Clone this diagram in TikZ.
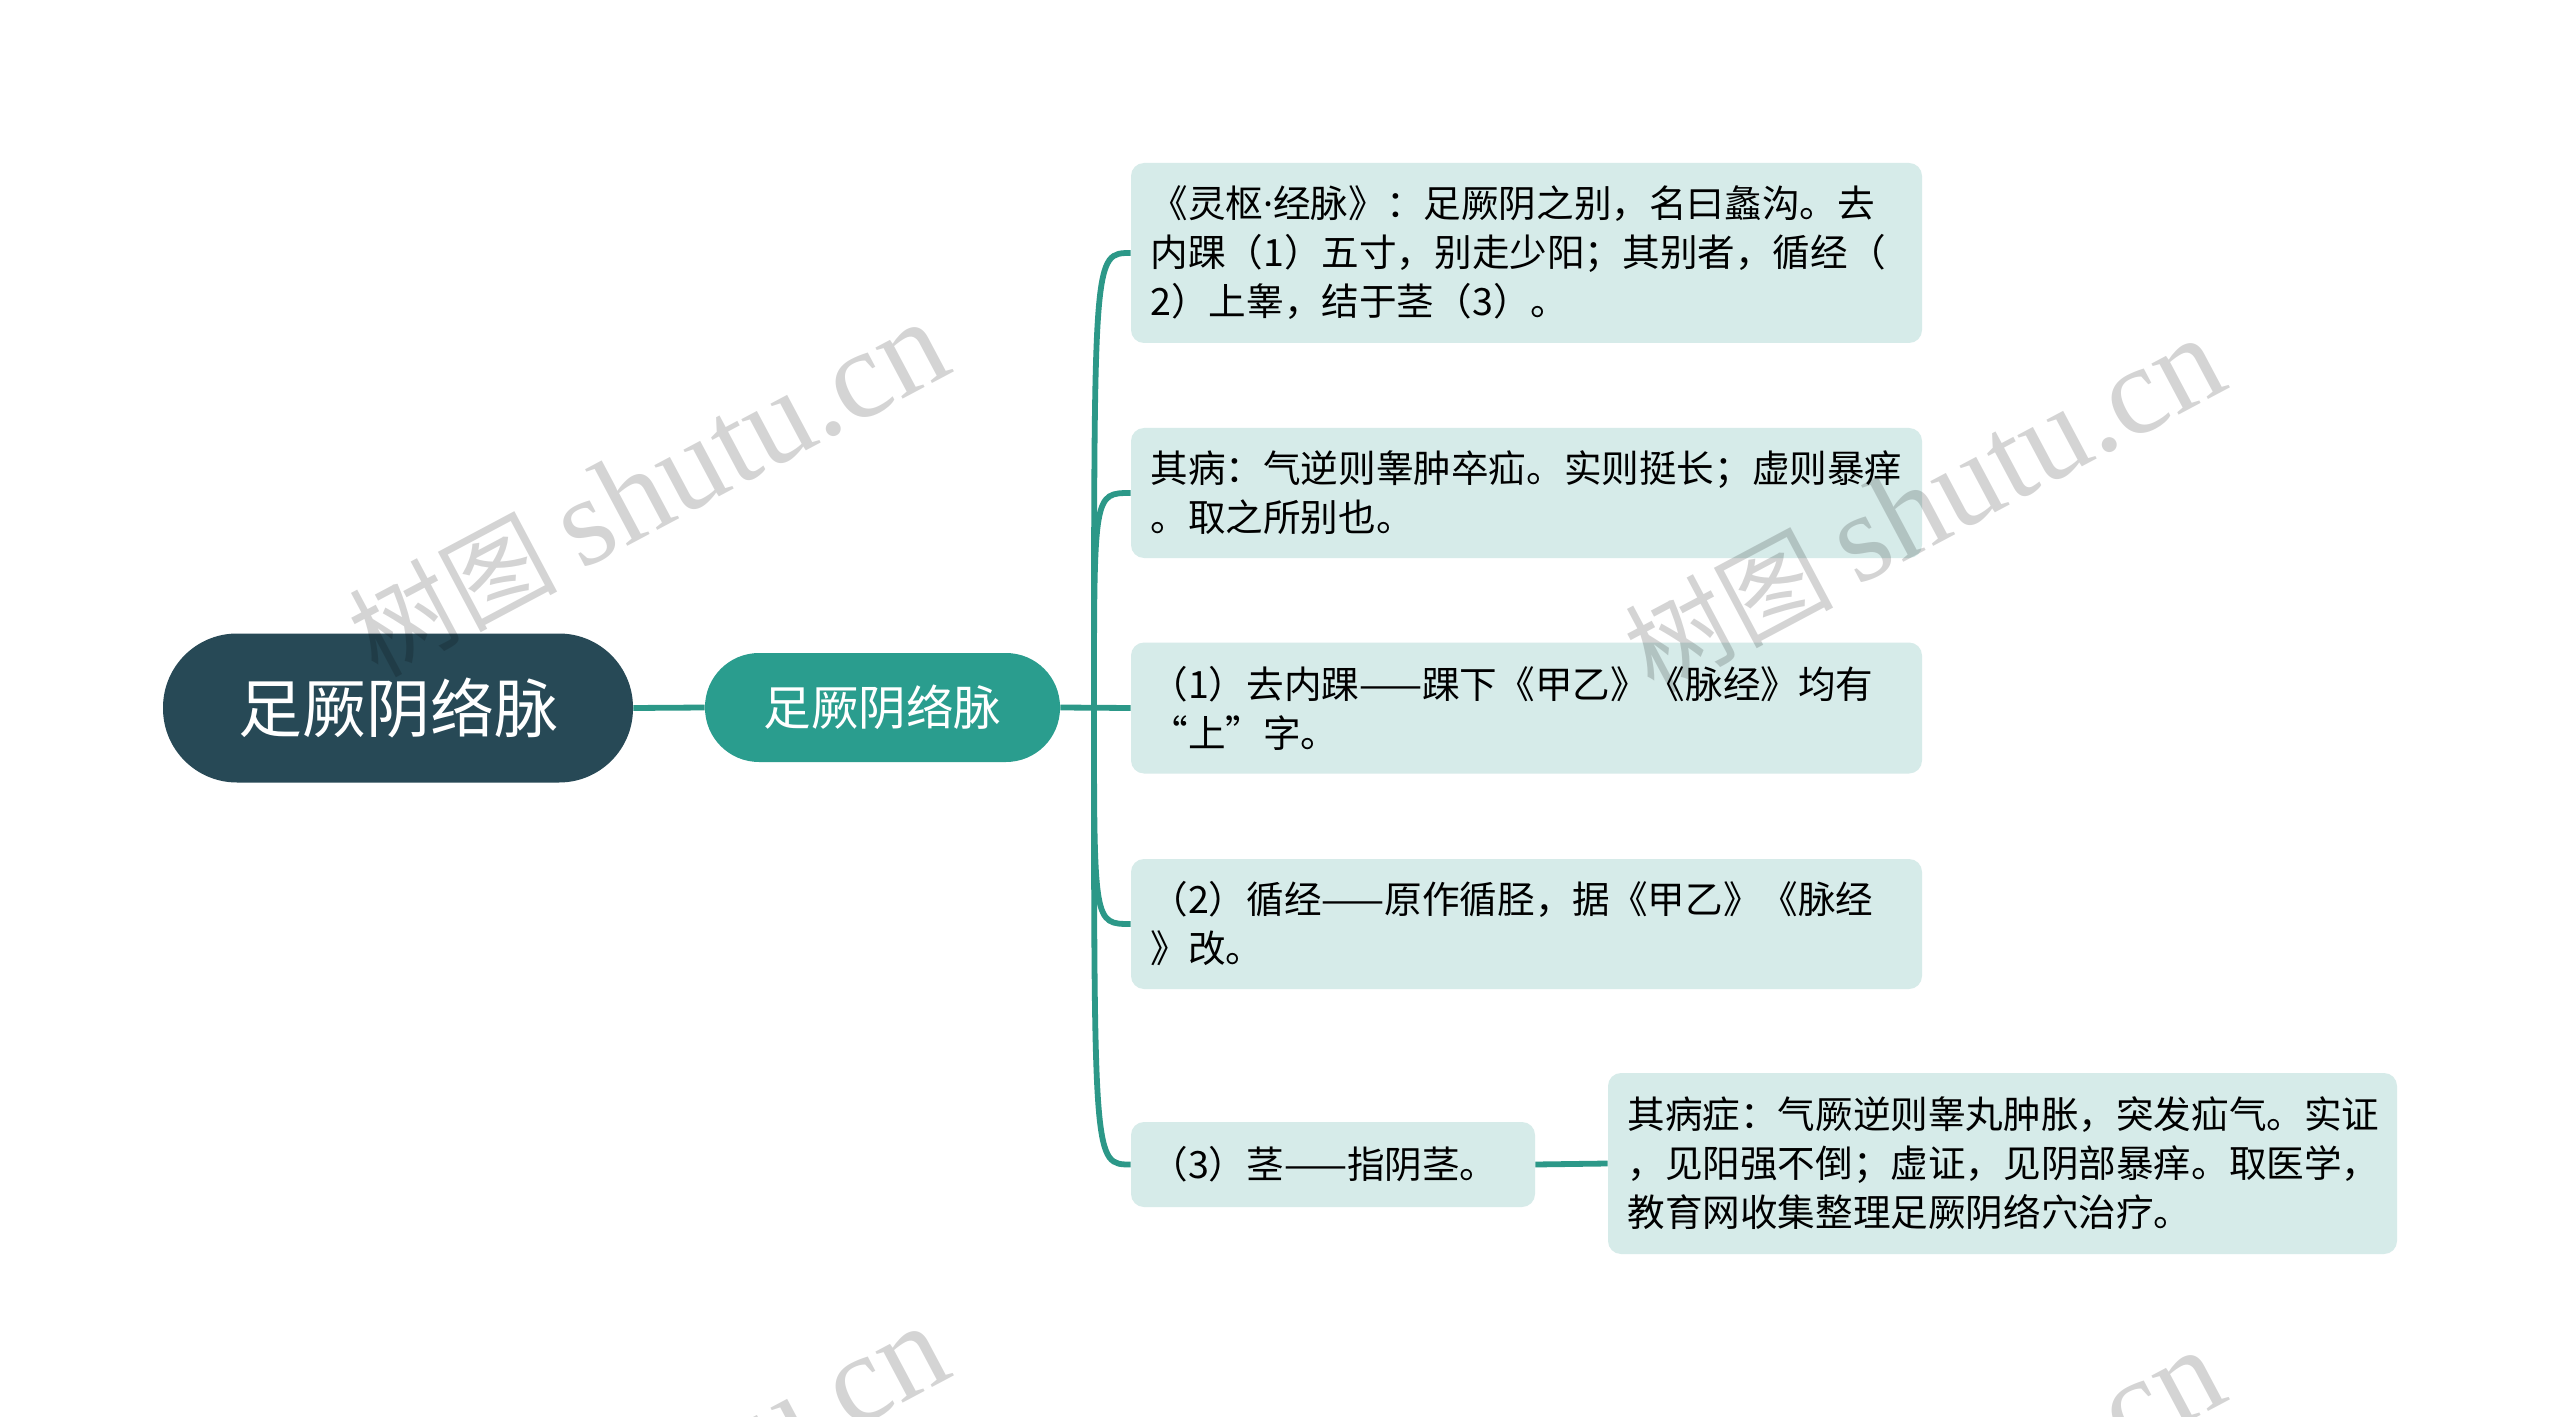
\documentclass[tikz,border=0pt]{standalone}
\usepackage{fontspec}
\setmainfont{Noto Sans CJK SC}
\newfontfamily\wmserif{Liberation Serif}
\newfontfamily\latinf{Noto Sans}
\definecolor{rootc}{RGB}{39,73,86}
\definecolor{tealc}{RGB}{42,157,142}
\definecolor{boxc}{RGB}{214,235,233}
\definecolor{linec}{RGB}{44,152,136}
\begin{document}
\begin{tikzpicture}[x=0.5pt,y=-0.5pt,
 rootbox/.style={fill=rootc, rounded corners=37pt, minimum width=235pt, minimum height=74.5pt, text=white, font=\fontsize{32pt}{36pt}\selectfont, inner sep=0pt},
 subbox/.style={fill=tealc, rounded corners=27pt, minimum width=177.5pt, minimum height=54.5pt, text=white, font=\fontsize{23.8pt}{28pt}\selectfont, inner sep=0pt},
 leafbox/.style={fill=boxc, rounded corners=6.5pt, align=left, text=black, font=\fontsize{18.8pt}{24.5pt}\selectfont, inner xsep=9.75pt, inner ysep=0pt, text width=376pt},
 conn/.style={draw=linec, line width=2.9pt},
 wm/.style={text=black, text opacity=0.17, rotate=28, inner sep=0pt}
]
\useasboundingbox (0,0) rectangle (2560,1417);
\fill[white] (0,0) rectangle (2560,1417);

\node[rootbox] (root) at (398,708) {足厥阴络脉};
\node[subbox] (sec) at (882.5,707.5) {足厥阴络脉};

\node[leafbox, minimum height=90pt] (b1) at (1526.5,253) {《灵枢{\latinf ·}经脉》：足厥阴之别，名曰蠡沟。去\\内踝（1）五寸，别走少阳；其别者，循经（\\2）上睾，结于茎（3）。};
\node[leafbox, minimum height=65pt] (b2) at (1526.5,493) {其病：气逆则睾肿卒疝。实则挺长；虚则暴痒\\。取之所别也。};
\node[leafbox, minimum height=65.5pt] (b3) at (1526.5,708) {（1）去内踝——踝下《甲乙》《脉经》均有\\“上”字。};
\node[leafbox, minimum height=65pt] (b4) at (1526.5,924) {（2）循经——原作循胫，据《甲乙》《脉经\\》改。};
\node[leafbox, minimum height=42.5pt, text width=182.5pt] (b5) at (1333,1164.5) {（3）茎——指阴茎。};
\node[leafbox, minimum height=90.5pt, text width=375pt] (b6) at (2002.5,1163.5) {其病症：气厥逆则睾丸肿胀，突发疝气。实证\\，见阳强不倒；虚证，见阴部暴痒。取医学，\\教育网收集整理足厥阴络穴治疗。};

\coordinate (j) at (1094,708);
\draw[conn] (root.east) -- (sec.west);
\draw[conn] (sec.east) -- (b3.west);
\foreach \b in {b1,b2,b4,b5}{
  \draw[conn] (j) .. controls (j |- \b.west) .. (\b.west);
}
\draw[conn] (b5.east) -- (b6.west);

\begin{scope}
\clip (0,0) rectangle (2560,1417);
\node[wm] (wm1) at (648,490) {\fontsize{52pt}{56pt}\selectfont 树图 {\wmserif\fontsize{63pt}{66pt}\selectfont shutu.cn}};
\node[wm] (wm2) at (1924,506) {\fontsize{52pt}{56pt}\selectfont 树图 {\wmserif\fontsize{63pt}{66pt}\selectfont shutu.cn}};
\node[wm] (wm3) at (648,1494) {\fontsize{52pt}{56pt}\selectfont 树图 {\wmserif\fontsize{63pt}{66pt}\selectfont shutu.cn}};
\node[wm] (wm4) at (1924,1518) {\fontsize{52pt}{56pt}\selectfont 树图 {\wmserif\fontsize{63pt}{66pt}\selectfont shutu.cn}};
\end{scope}
\end{tikzpicture}
\end{document}
